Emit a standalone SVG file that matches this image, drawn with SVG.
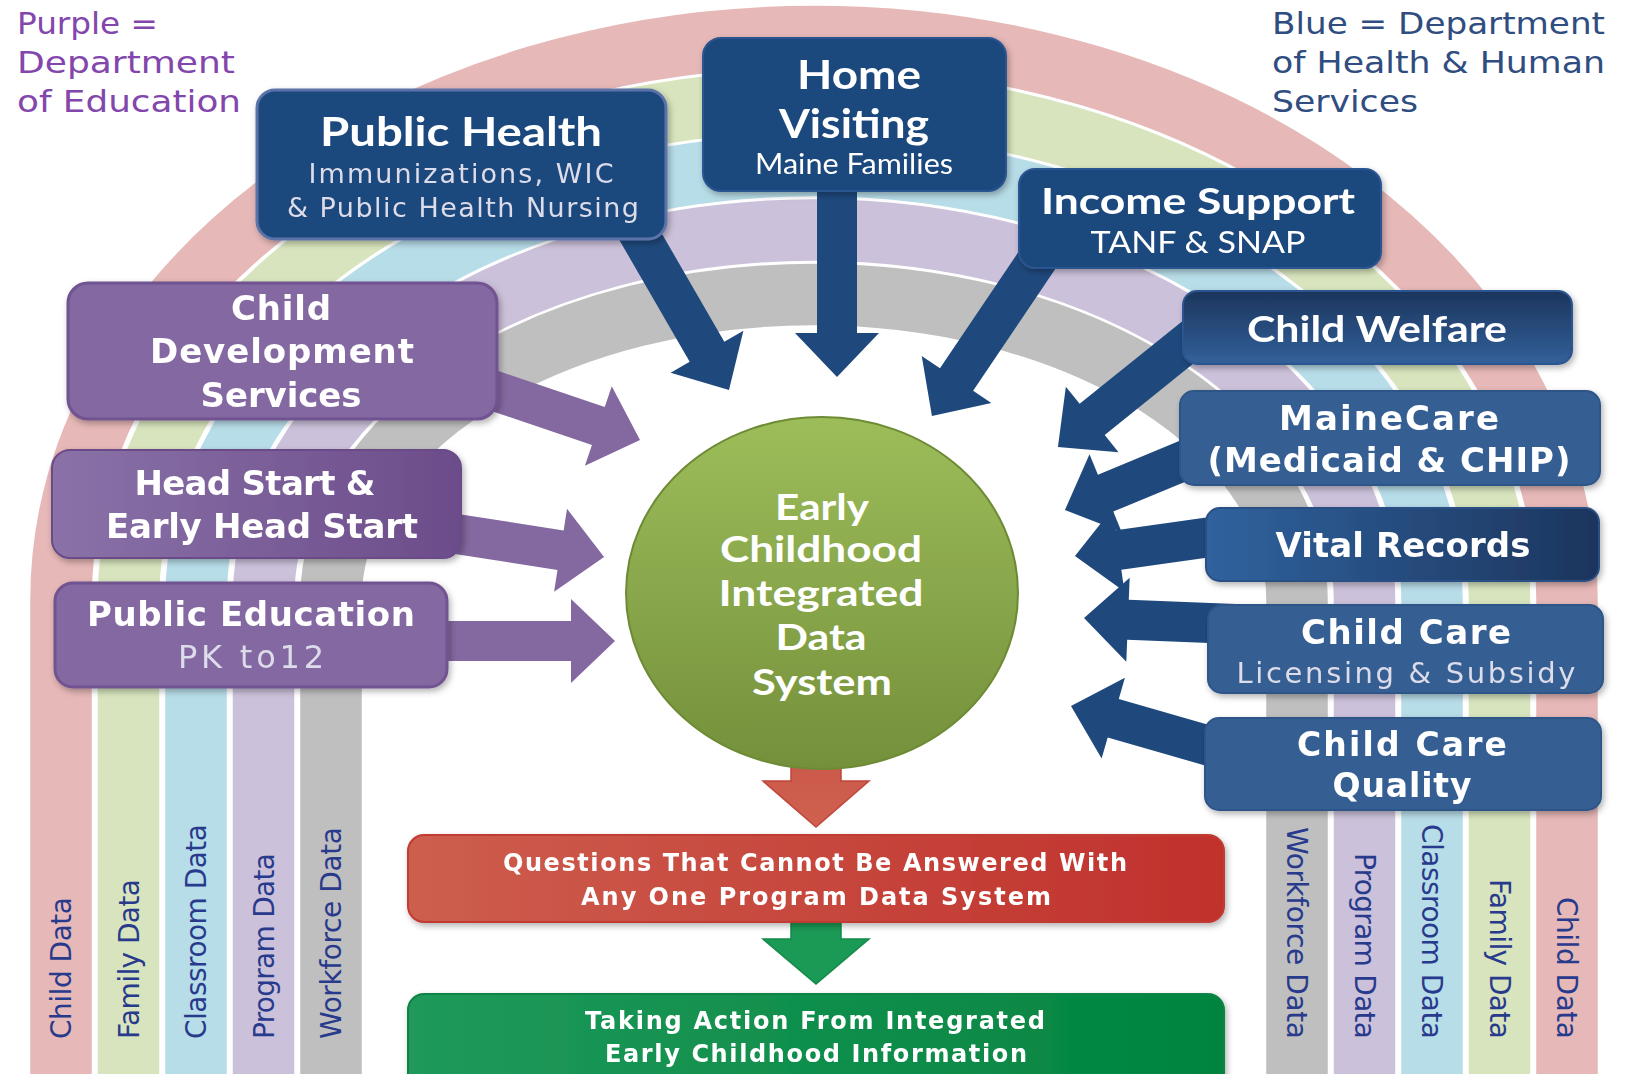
<svg xmlns="http://www.w3.org/2000/svg" width="1632" height="1074" viewBox="0 0 1632 1074">
<defs>
<style>
.band{fill:none;stroke-width:61.5}
.lbl{font-family:"DejaVu Sans",sans-serif;font-size:28px;fill:#283a8c}
.leg{font-family:"DejaVu Sans",sans-serif;font-size:30px}
.cg{font-family:"DejaVu Sans",sans-serif;font-weight:bold;fill:#fff;text-anchor:middle}
.cgr{font-family:"DejaVu Sans",sans-serif;fill:#dcdcea;text-anchor:middle}
.cal{font-family:Lato,"Open Sans",sans-serif;font-weight:bold;fill:#fff;text-anchor:middle}
.calr{font-family:Lato,"Open Sans",sans-serif;fill:#fff;text-anchor:middle}
.ab{fill:#1f497d}
.ap{fill:#8468a0}
.bx{filter:url(#sh)}
</style>
<filter id="sh" x="-10%" y="-10%" width="120%" height="130%"><feDropShadow dx="2" dy="3" stdDeviation="3" flood-color="#000" flood-opacity="0.3"/></filter>
<linearGradient id="gCW" x1="0" y1="0" x2="0" y2="1"><stop offset="0" stop-color="#1c355c"/><stop offset="1" stop-color="#32609a"/></linearGradient>
<linearGradient id="gVR" x1="0" y1="0" x2="1" y2="0"><stop offset="0" stop-color="#30629e"/><stop offset="1" stop-color="#1c355d"/></linearGradient>
<linearGradient id="gHS" x1="0" y1="0" x2="1" y2="0"><stop offset="0" stop-color="#8a72a8"/><stop offset="1" stop-color="#6c4c8a"/></linearGradient>
<linearGradient id="gEl" x1="0" y1="0" x2="0" y2="1"><stop offset="0" stop-color="#9dbd5a"/><stop offset="1" stop-color="#74903b"/></linearGradient>
<linearGradient id="gRed" x1="0" y1="0" x2="1" y2="0"><stop offset="0" stop-color="#cd5e4e"/><stop offset="1" stop-color="#c0302c"/></linearGradient>
<linearGradient id="gGr" x1="0" y1="0" x2="1" y2="0"><stop offset="0" stop-color="#20995a"/><stop offset="1" stop-color="#00843e"/></linearGradient>
<linearGradient id="gRA" x1="0" y1="0" x2="0" y2="1"><stop offset="0" stop-color="#c9574a"/><stop offset="1" stop-color="#d0604f"/></linearGradient>
</defs>
<rect width="1632" height="1074" fill="#fff"/>

<g id="rainbow">
<path class="band" stroke="#e6b8b7" d="M61 1090V600A753 563.5 0 0 1 1567 600V1090"/>
<path class="band" stroke="#d7e4bd" d="M128.5 1090V600A685.5 499 0 0 1 1499.5 600V1090"/>
<path class="band" stroke="#b7dde8" d="M196 1090V600A618 434.5 0 0 1 1432 600V1090"/>
<path class="band" stroke="#ccc1da" d="M263.5 1090V600A550.5 370 0 0 1 1364.5 600V1090"/>
<path class="band" stroke="#bfbfbf" d="M331 1090V600A483 305.5 0 0 1 1297 600V1090"/>
</g>

<g id="band-labels">
<text class="lbl" transform="translate(71,1039) rotate(-90)" textLength="142">Child Data</text>
<text class="lbl" transform="translate(138.5,1039) rotate(-90)" textLength="160">Family Data</text>
<text class="lbl" transform="translate(206,1039) rotate(-90)" textLength="215">Classroom Data</text>
<text class="lbl" transform="translate(273.5,1039) rotate(-90)" textLength="186">Program Data</text>
<text class="lbl" transform="translate(341,1039) rotate(-90)" textLength="212">Workforce Data</text>
<text class="lbl" text-anchor="end" transform="translate(1287,1039) rotate(90)" textLength="212">Workforce Data</text>
<text class="lbl" text-anchor="end" transform="translate(1354.5,1039) rotate(90)" textLength="186">Program Data</text>
<text class="lbl" text-anchor="end" transform="translate(1422,1039) rotate(90)" textLength="215">Classroom Data</text>
<text class="lbl" text-anchor="end" transform="translate(1489.5,1039) rotate(90)" textLength="160">Family Data</text>
<text class="lbl" text-anchor="end" transform="translate(1557,1039) rotate(90)" textLength="142">Child Data</text>
</g>

<g id="legend">
<text class="leg" fill="#8246ac" x="17" y="34" textLength="141" lengthAdjust="spacingAndGlyphs">Purple =</text>
<text class="leg" fill="#8246ac" x="17" y="73" textLength="218" lengthAdjust="spacingAndGlyphs">Department</text>
<text class="leg" fill="#8246ac" x="17" y="112" textLength="224" lengthAdjust="spacingAndGlyphs">of Education</text>
<text class="leg" fill="#2f4d80" x="1272" y="34" textLength="333" lengthAdjust="spacingAndGlyphs">Blue = Department</text>
<text class="leg" fill="#2f4d80" x="1272" y="73" textLength="333" lengthAdjust="spacingAndGlyphs">of Health &amp; Human</text>
<text class="leg" fill="#2f4d80" x="1272" y="112" textLength="146" lengthAdjust="spacingAndGlyphs">Services</text>
</g>

<g id="connectors">
<polygon class="ab" transform="translate(628,215) rotate(60)" points="0,-20 158,-20 158,-42 202,0 158,42 158,20 0,20"/>
<polygon class="ab" transform="translate(837,170) rotate(90)" points="0,-20 163,-20 163,-42 207,0 163,42 163,20 0,20"/>
<polygon class="ab" transform="translate(1052,238) rotate(124)" points="0,-20 170.7,-20 170.7,-42 214.7,0 170.7,42 170.7,20 0,20"/>
<polygon class="ab" transform="translate(1202,331) rotate(141.15)" points="0,-20 141,-20 141,-42 185,0 141,42 141,20 0,20"/>
<polygon class="ab" transform="translate(1200,454) rotate(157.5)" points="0,-20 102.2,-20 102.2,-42 146.2,0 102.2,42 102.2,20 0,20"/>
<polygon class="ab" transform="translate(1225,535) rotate(172)" points="0,-20 107.5,-20 107.5,-42 151.5,0 107.5,42 107.5,20 0,20"/>
<polygon class="ab" transform="translate(1235,624) rotate(182.3)" points="0,-20 107.1,-20 107.1,-42 151.1,0 107.1,42 107.1,20 0,20"/>
<polygon class="ab" transform="translate(1220,749) rotate(196.1)" points="0,-20 111.1,-20 111.1,-42 155.1,0 111.1,42 111.1,20 0,20"/>
<polygon class="ap" transform="translate(480,386) rotate(18.65)" points="0,-20 124.9,-20 124.9,-42 168.9,0 124.9,42 124.9,20 0,20"/>
<polygon class="ap" transform="translate(450,533) rotate(8.86)" points="0,-20 111.9,-20 111.9,-42 155.9,0 111.9,42 111.9,20 0,20"/>
<polygon class="ap" transform="translate(435,641)" points="0,-20 136,-20 136,-42 180,0 136,42 136,20 0,20"/>
<polygon fill="url(#gRA)" stroke="#c0453a" stroke-width="1.5" points="791,740 841,740 841,781 869,781 816,827 763,781 791,781"/>
<polygon fill="#1b9a55" stroke="#138a48" stroke-width="1.5" points="791,915 841,915 841,939 869,939 816,984 763,939 791,939"/>
</g>

<g id="public-health" class="bx">
<rect x="257" y="90" width="409" height="149" rx="18" fill="#1f497d" stroke="#5b73a9" stroke-width="3"/>
<text class="cal" x="461" y="146" font-size="40" textLength="282" lengthAdjust="spacingAndGlyphs">Public Health</text>
<text class="cgr" x="461" y="183" font-size="27" textLength="305">Immunizations,  WIC</text>
<text class="cgr" x="463" y="217" font-size="27" textLength="352">&amp; Public Health Nursing</text>
</g>
<g id="home-visiting" class="bx">
<rect x="703" y="38" width="303" height="153" rx="18" fill="#1f497d" stroke="#2c5590" stroke-width="2"/>
<text class="cal" x="859" y="89" font-size="40" textLength="124" lengthAdjust="spacingAndGlyphs">Home</text>
<text class="cal" x="854" y="138" font-size="40" textLength="150" lengthAdjust="spacingAndGlyphs">Visiting</text>
<text class="calr" x="854" y="174" font-size="28" textLength="198" lengthAdjust="spacingAndGlyphs">Maine Families</text>
</g>
<g id="income-support" class="bx">
<rect x="1019" y="169" width="362" height="99" rx="16" fill="#1f497d" stroke="#2c5590" stroke-width="2"/>
<text class="cal" x="1198" y="214" font-size="36" textLength="314" lengthAdjust="spacingAndGlyphs">Income Support</text>
<text class="calr" x="1198" y="253" font-size="30" textLength="215" lengthAdjust="spacingAndGlyphs">TANF &amp; SNAP</text>
</g>
<g id="child-welfare" class="bx">
<rect x="1183" y="291" width="389" height="73" rx="14" fill="url(#gCW)" stroke="#2c5590" stroke-width="2"/>
<text class="cal" x="1377" y="342" font-size="36" textLength="260" lengthAdjust="spacingAndGlyphs">Child Welfare</text>
</g>
<g id="mainecare" class="bx">
<rect x="1180" y="391" width="420" height="94" rx="14" fill="#365f92" stroke="#2f5588" stroke-width="2"/>
<text class="cg" x="1389" y="430" font-size="34" textLength="220">MaineCare</text>
<text class="cg" x="1389" y="472" font-size="34" textLength="363">(Medicaid &amp; CHIP)</text>
</g>
<g id="vital-records" class="bx">
<rect x="1206" y="508" width="393" height="73" rx="14" fill="url(#gVR)" stroke="#2a4f84" stroke-width="2"/>
<text class="cg" x="1403" y="557" font-size="34" textLength="255">Vital Records</text>
</g>
<g id="child-care-licensing" class="bx">
<rect x="1208" y="605" width="395" height="88" rx="14" fill="#365f92" stroke="#2f5588" stroke-width="2"/>
<text class="cg" x="1406" y="644" font-size="34" textLength="210">Child Care</text>
<text class="cgr" x="1406" y="683" font-size="29" textLength="339">Licensing &amp; Subsidy</text>
</g>
<g id="child-care-quality" class="bx">
<rect x="1205" y="718" width="396" height="92" rx="14" fill="#365f92" stroke="#2f5588" stroke-width="2"/>
<text class="cg" x="1402" y="756" font-size="33" textLength="210">Child Care</text>
<text class="cg" x="1402" y="797" font-size="33" textLength="139">Quality</text>
</g>
<g id="child-development-services" class="bx">
<rect x="68" y="283" width="429" height="136" rx="20" fill="#8468a2" stroke="#6f5290" stroke-width="3"/>
<text class="cg" x="281" y="320" font-size="34" textLength="100">Child</text>
<text class="cg" x="282" y="363" font-size="34" textLength="264">Development</text>
<text class="cg" x="281" y="407" font-size="34" textLength="161">Services</text>
</g>
<g id="head-start" class="bx">
<rect x="52" y="450" width="409" height="108" rx="18" fill="url(#gHS)" stroke="#6a4c88" stroke-width="2"/>
<text class="cg" x="255" y="495" font-size="34" textLength="241">Head Start &amp;</text>
<text class="cg" x="262" y="538" font-size="34" textLength="312">Early Head Start</text>
</g>
<g id="public-education" class="bx">
<rect x="55" y="583" width="392" height="104" rx="18" fill="#8468a2" stroke="#6f5290" stroke-width="3"/>
<text class="cg" x="251" y="626" font-size="34" textLength="328">Public Education</text>
<text class="cgr" x="251" y="668" font-size="32" textLength="146">PK to12</text>
</g>

<g id="ecids">
<ellipse cx="822" cy="593" rx="196" ry="176" fill="url(#gEl)" stroke="#6d8a34" stroke-width="2"/>
<text class="cal" x="822" y="520" font-size="36" textLength="94" lengthAdjust="spacingAndGlyphs">Early</text>
<text class="cal" x="821" y="562" font-size="36" textLength="202" lengthAdjust="spacingAndGlyphs">Childhood</text>
<text class="cal" x="821" y="606" font-size="36" textLength="205" lengthAdjust="spacingAndGlyphs">Integrated</text>
<text class="cal" x="821" y="650" font-size="36" textLength="91" lengthAdjust="spacingAndGlyphs">Data</text>
<text class="cal" x="822" y="695" font-size="36" textLength="140" lengthAdjust="spacingAndGlyphs">System</text>
</g>

<g id="questions" class="bx">
<rect x="408" y="835" width="816" height="87" rx="16" fill="url(#gRed)" stroke="#c23a30" stroke-width="2"/>
<text class="cg" x="815" y="871" font-size="24" textLength="624">Questions That Cannot Be Answered With</text>
<text class="cg" x="816" y="905" font-size="24" textLength="470">Any One Program Data System</text>
</g>
<g id="taking-action" class="bx">
<rect x="408" y="994" width="816" height="100" rx="16" fill="url(#gGr)" stroke="#0a8445" stroke-width="2"/>
<text class="cg" x="815" y="1029" font-size="24" textLength="460">Taking Action From Integrated</text>
<text class="cg" x="816" y="1062" font-size="24" textLength="422">Early Childhood Information</text>
</g>
</svg>
